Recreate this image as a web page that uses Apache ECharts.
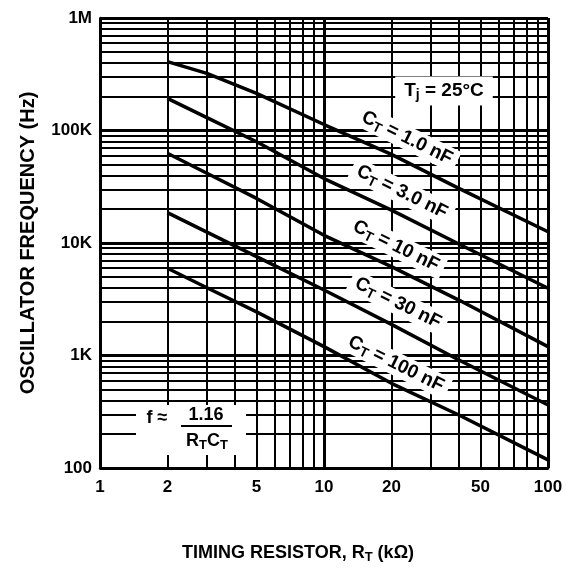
<!DOCTYPE html>
<html>
<head>
<meta charset="utf-8">
<script src="https://cdn.jsdelivr.net/npm/echarts@6/dist/echarts.min.js"></script>
<style>
html,body{margin:0;padding:0;background:#fff;}
#chart{width:566px;height:570px;}
</style>
</head>
<body>
<div id="chart"></div>
<script>
// Timing resistor values (kΩ)
const rtValues = [2, 3, 5, 10, 20, 40, 100];
// Oscillator frequency (Hz) for each timing capacitor
const ct1nF   = [409000, 322000, 214000, 113000, 61400, 30600, 12600];
const ct3nF   = [193000, 130000, 79500, 37400, 19600, 9800, 3960];
const ct10nF  = [62700, 41700, 24900, 11700, 6160, 3110, 1200];
const ct30nF  = [18600, 12500, 7560, 3820, 1890, 912, 363];
const ct100nF = [5960, 4000, 2440, 1200, 566, 296, 118];

// Tick labels
const xTickValues = [1, 2, 5, 10, 20, 50, 100];
const yTickValues = [100, 1000, 10000, 100000, 1000000];
const yTickLabels = ['100', '1K', '10K', '100K', '1M'];

// Grid lines
const xGridMajor = [1, 10, 100];
const xGridMinor = [2, 3, 4, 5, 6, 7, 8, 9, 20, 30, 40, 50, 60, 70, 80, 90];
const yGridMajor = [100, 1000, 10000, 100000, 1000000];
const yGridMinor = [200, 300, 400, 500, 600, 700, 800, 900,
  2000, 3000, 4000, 5000, 6000, 7000, 8000, 9000,
  20000, 30000, 40000, 50000, 60000, 70000, 80000, 90000,
  200000, 300000, 400000, 500000, 600000, 700000, 800000, 900000];

const FONT = '"Liberation Sans", Arial, Helvetica, sans-serif';
const chart = echarts.init(document.getElementById('chart'), null, {renderer: 'canvas'});

function pairs(ys) { return rtValues.map((r, i) => [r, ys[i]]); }
function curve(name, ys) {
  return {
    name: name, type: 'line', data: pairs(ys), symbol: 'none', smooth: false,
    lineStyle: {color: '#000', width: 3.5}, z: 5, silent: true
  };
}

function mkRich(size) {
  return {
    a: {fontFamily: FONT, fontSize: size, fontWeight: 'bold', color: '#000'},
    s: {fontFamily: FONT, fontSize: Math.round(size * 0.72), fontWeight: 'bold', color: '#000',
        padding: [Math.round(size * 0.45), 0, 0, 0]}
  };
}
const rich19 = mkRich(19);
const rich18 = mkRich(18);
function ctLabel(txt, x, y) {
  return {
    type: 'text', x: x, y: y, rotation: -0.46, z: 20,
    style: {
      text: '{a|C}{s|T}{a| = ' + txt + '}', rich: rich19,
      align: 'center', verticalAlign: 'middle',
      backgroundColor: '#fff', padding: [0, 6, 0, 6]
    }
  };
}

const option = {
  animation: false,
  backgroundColor: '#fff',
  grid: {left: 100, right: 18, top: 18, bottom: 102},
  xAxis: {
    type: 'log', logBase: 10, min: 1, max: 100,
    axisLine: {show: true, lineStyle: {color: '#000', width: 2.5}},
    axisTick: {show: false},
    splitLine: {show: false},
    axisLabel: {
      customValues: xTickValues,
      color: '#000', fontFamily: FONT, fontSize: 17, fontWeight: 'bold', margin: 11,
      formatter: v => String(v)
    }
  },
  yAxis: {
    type: 'log', logBase: 10, min: 100, max: 1000000,
    name: 'OSCILLATOR FREQUENCY (Hz)', nameLocation: 'middle', nameGap: 62, nameRotate: 90,
    nameTextStyle: {color: '#000', fontFamily: FONT, fontSize: 20, fontWeight: 'bold'},
    axisLine: {show: true, lineStyle: {color: '#000', width: 2.5}},
    axisTick: {show: false},
    splitLine: {show: false},
    axisLabel: {
      color: '#000', fontFamily: FONT, fontSize: 17, fontWeight: 'bold', margin: 8,
      formatter: v => {
        const i = yTickValues.findIndex(t => Math.abs(t - v) / t < 1e-6);
        return i >= 0 ? yTickLabels[i] : '';
      }
    }
  },
  series: [
    {
      type: 'line', data: [[1, 100]], symbol: 'none', lineStyle: {width: 0}, silent: true, z: 1,
      markLine: {
        silent: true, symbol: ['none', 'none'], label: {show: false}, animation: false,
        lineStyle: {color: '#000', width: 2, type: 'solid'},
        data: xGridMinor.map(v => ({xAxis: v})).concat(yGridMinor.map(v => ({yAxis: v})))
      }
    },
    {
      type: 'line', data: [[1, 100]], symbol: 'none', lineStyle: {width: 0}, silent: true, z: 2,
      markLine: {
        silent: true, symbol: ['none', 'none'], label: {show: false}, animation: false,
        lineStyle: {color: '#000', width: 3, type: 'solid'},
        data: xGridMajor.map(v => ({xAxis: v})).concat(yGridMajor.map(v => ({yAxis: v})))
      }
    },
    curve('CT = 1.0 nF', ct1nF),
    curve('CT = 3.0 nF', ct3nF),
    curve('CT = 10 nF', ct10nF),
    curve('CT = 30 nF', ct30nF),
    curve('CT = 100 nF', ct100nF)
  ],
  graphic: [
    ctLabel('1.0 nF', 407, 138),
    ctLabel('3.0 nF', 402, 192),
    ctLabel('10 nF', 396, 246),
    ctLabel('30 nF', 398, 303),
    ctLabel('100 nF', 396, 364),
    {
      type: 'text', x: 444, y: 91, z: 20,
      style: {
        text: '{a|T}{s|j}{a| = 25°C}', rich: rich19,
        align: 'center', verticalAlign: 'middle',
        backgroundColor: '#fff', padding: [3, 9, 3, 9]
      }
    },
    {
      type: 'rect', z: 19, shape: {x: 136, y: 405, width: 110, height: 50},
      style: {fill: '#fff'}
    },
    {
      type: 'text', x: 157, y: 418, z: 20,
      style: {text: 'f ≈', fill: '#000', font: 'bold 18px ' + FONT, align: 'center', verticalAlign: 'middle'}
    },
    {
      type: 'text', x: 206, y: 415, z: 20,
      style: {text: '1.16', fill: '#000', font: 'bold 18px ' + FONT, align: 'center', verticalAlign: 'middle'}
    },
    {
      type: 'line', z: 20, shape: {x1: 181, y1: 426, x2: 232, y2: 426},
      style: {stroke: '#000', lineWidth: 2}
    },
    {
      type: 'text', x: 207, y: 441, z: 20,
      style: {
        text: '{a|R}{s|T}{a|C}{s|T}', rich: rich18,
        align: 'center', verticalAlign: 'middle'
      }
    },
    {
      type: 'text', x: 182, y: 553, z: 20,
      style: {
        text: '{a|TIMING RESISTOR, R}{s|T}{a| (kΩ)}', rich: rich18,
        align: 'left', verticalAlign: 'middle'
      }
    }
  ]
};
chart.setOption(option);
</script>
</body>
</html>
